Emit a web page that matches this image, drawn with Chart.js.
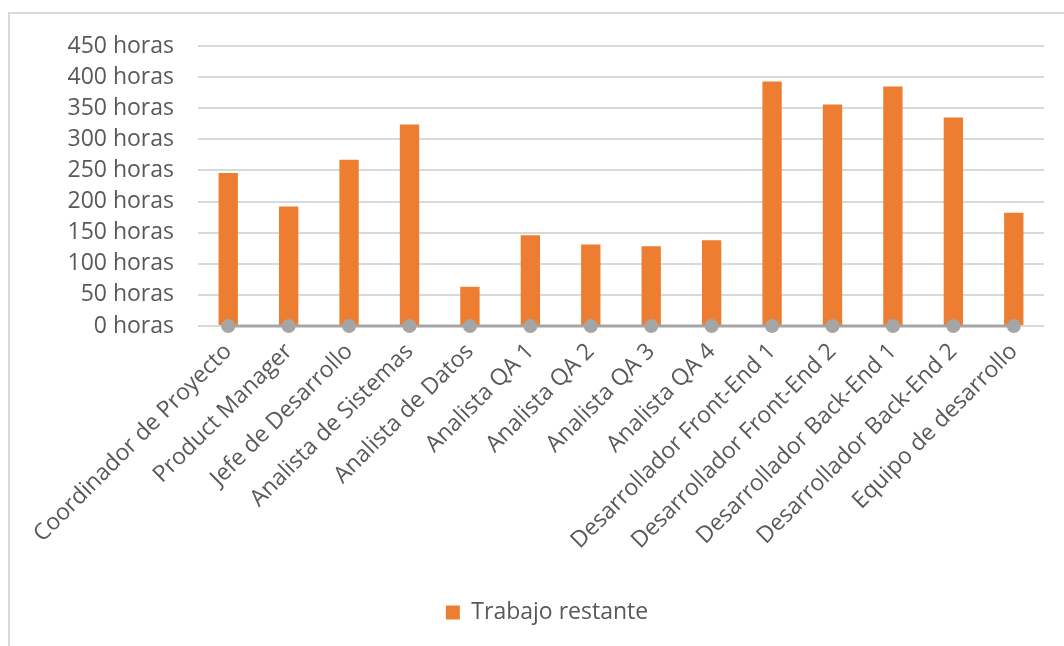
<!DOCTYPE html>
<html lang="es">
<head>
<meta charset="utf-8">
<title>Trabajo restante</title>
<script src="https://cdn.jsdelivr.net/npm/chart.js@4/dist/chart.umd.min.js"></script>
<style>
  html, body { margin: 0; padding: 0; background: #fff; overflow: hidden; }
  .chart-box {
    position: absolute; left: 8px; top: 12px;
    width: 1120px; height: 640px;
    border-top: 2px solid #d9d9d9; border-left: 2px solid #d9d9d9;
  }
  .chart-box canvas { position: absolute; left: 0; top: 0; }
</style>
</head>
<body>
<div class="chart-box"><canvas id="chart" width="1120" height="634"></canvas></div>
<script>
  // Datos
  const categories = [
    'Coordinador de Proyecto', 'Product Manager', 'Jefe de Desarrollo',
    'Analista de Sistemas', 'Analista de Datos', 'Analista QA 1',
    'Analista QA 2', 'Analista QA 3', 'Analista QA 4',
    'Desarrollador Front-End 1', 'Desarrollador Front-End 2',
    'Desarrollador Back-End 1', 'Desarrollador Back-End 2', 'Equipo de desarrollo'
  ];
  const trabajoRestante = [246, 192, 267, 324, 63, 146, 131, 128, 138, 393, 356, 385, 335, 182];
  const lineaBase = [0, 0, 0, 0, 0, 0, 0, 0, 0, 0, 0, 0, 0, 0];
  const yTicks = [0, 50, 100, 150, 200, 250, 300, 350, 400, 450];

  const FONT = "'Open Sans', sans-serif";
  const TEXT = '#595959';

  new Chart(document.getElementById('chart'), {
    data: {
      labels: categories,
      datasets: [
        {
          type: 'line',
          label: '',
          data: lineaBase,
          borderColor: '#a5a5a5',
          backgroundColor: '#a5a5a5',
          borderWidth: 3,
          pointRadius: 7,
          pointBackgroundColor: '#a5a5a5',
          pointBorderWidth: 0,
          clip: false,
          order: 0
        },
        {
          type: 'bar',
          label: 'Trabajo restante',
          data: trabajoRestante,
          backgroundColor: '#ed7d31',
          categoryPercentage: 1,
          barPercentage: 0.32,
          order: 1
        }
      ]
    },
    options: {
      responsive: false,
      animation: false,
      layout: { padding: { top: 32, right: 86, bottom: 14, left: 40 } },
      plugins: {
        tooltip: { enabled: false },
        legend: {
          position: 'bottom',
          labels: {
            color: TEXT,
            font: { family: FONT, size: 23 },
            boxWidth: 14, boxHeight: 14,
            filter: item => item.text !== ''
          }
        }
      },
      scales: {
        x: {
          grid: { display: false },
          border: { display: false },
          ticks: {
            color: TEXT, font: { family: FONT, size: 23 },
            minRotation: 45, maxRotation: 45, padding: 4, autoSkip: false
          },
          afterFit: s => { s.height = 265; }
        },
        y: {
          min: 0, max: 450,
          afterBuildTicks: s => { s.ticks = yTicks.map(v => ({ value: v })); },
          grid: { color: '#d9d9d9', lineWidth: 2, tickLength: 20, tickColor: 'transparent' },
          border: { display: false },
          ticks: {
            color: TEXT, font: { family: FONT, size: 23 }, padding: 4,
            autoSkip: false,
            callback: v => v + ' horas'
          },
          afterFit: s => { s.width = 148; }
        }
      }
    }
  });
</script>
</body>
</html>
